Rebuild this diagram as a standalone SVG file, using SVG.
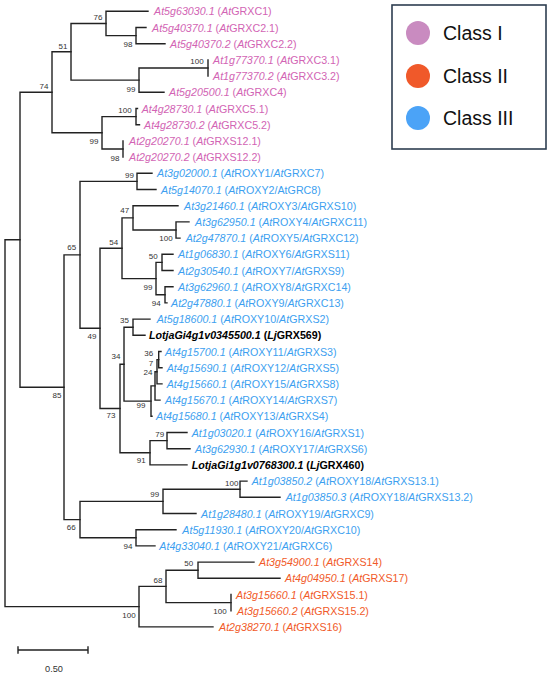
<svg xmlns="http://www.w3.org/2000/svg" width="550" height="676" viewBox="0 0 550 676">
<style>
.t{font-family:"Liberation Sans",Arial,sans-serif;font-size:10.7px}
.c1{fill:#d264b4}.c2{fill:#f15a29}.c3{fill:#3d9ff0}.lj{fill:#000;font-weight:bold}
.i{font-style:italic}
.bs{font-family:"Liberation Sans",Arial,sans-serif;font-size:8px;fill:#333;text-anchor:middle}
.br{stroke:#222;stroke-width:1.4;fill:none;stroke-linecap:square}
.lg{font-family:"Liberation Sans",Arial,sans-serif;font-size:19.5px;fill:#111}
</style>
<rect width="550" height="676" fill="#fff"/>
<g id="connectors" class="br">
<path d="M5 239.8V606.65M5 239.8H20M5 606.65H139"/>
<path d="M20 92.3V387.2M20 92.3H52M20 387.2H64"/>
<path d="M52 51.8V132.8M52 51.8H71M52 132.8H102"/>
<path d="M71 23.45V80.15M71 23.45H106M71 80.15H139"/>
<path d="M106 11.3V35.6M106 11.3H148M106 35.6H136"/>
<path d="M136 27.5V43.7M136 27.5H146M136 43.7H165"/>
<path d="M139 68V92.3M139 68H208M139 92.3H164"/>
<path d="M208 59.9V76.1"/>
<path d="M102 116.6V149M102 116.6H136M102 149H123"/>
<path d="M136 108.5V124.7M136 108.5H137.5M136 124.7H139.5"/>
<path d="M123 140.9V157.1"/>
<path d="M64 254.9V519.6M64 254.9H80M64 519.6H80"/>
<path d="M80 181.4V328.3M80 181.4H137M80 328.3H100"/>
<path d="M137 173.3V189.5M137 173.3H152M137 189.5H156"/>
<path d="M100 248.2V408.5M100 248.2H122M100 408.5H120"/>
<path d="M122 217.85V278.6M122 217.85H133M122 278.6H156"/>
<path d="M133 205.7V230M133 205.7H178M133 230H176"/>
<path d="M176 221.9V238.1M176 221.9H189M176 238.1H180"/>
<path d="M156 262.4V294.8M156 262.4H162M156 294.8H165"/>
<path d="M162 254.3V270.5M162 254.3H173M162 270.5H173"/>
<path d="M165 286.7V302.9M165 286.7H173M165 302.9H167"/>
<path d="M120 364.2V452.75M120 364.2H124M120 452.75H150"/>
<path d="M124 327.2V401.1M124 327.2H133M124 401.1H151"/>
<path d="M133 319.1V335.3M133 319.1H150M133 335.3H145"/>
<path d="M151 385.9V416.3M151 385.9H155M151 416.3H152"/>
<path d="M155 371.75V400.1M155 371.75H157M155 400.1H160"/>
<path d="M157 359.6V383.9M157 359.6H158.7M157 383.9H162"/>
<path d="M158.7 351.5V367.7M158.7 351.5H161M158.7 367.7H162"/>
<path d="M150 440.6V464.9M150 440.6H167M150 464.9H187"/>
<path d="M167 432.5V448.7M167 432.5H187M167 448.7H190"/>
<path d="M80 501.35V537.8M80 501.35H163M80 537.8H136"/>
<path d="M163 489.2V513.5M163 489.2H240M163 513.5H196"/>
<path d="M240 481.1V497.3M240 481.1H247M240 497.3H280"/>
<path d="M136 529.7V545.9M136 529.7H176M136 545.9H155"/>
<path d="M139 586.4V626.9M139 586.4H166M139 626.9H213"/>
<path d="M166 570.2V602.6M166 570.2H198M166 602.6H231"/>
<path d="M198 562.1V578.3M198 562.1H254M198 578.3H280"/>
<path d="M231 594.5V610.7"/>
</g>
<g id="bootstrap">
<text class="bs" x="98" y="20.1">76</text>
<text class="bs" x="63" y="48.5">51</text>
<text class="bs" x="128" y="46.8">98</text>
<text class="bs" x="44" y="88.8">74</text>
<text class="bs" x="197" y="63.8">100</text>
<text class="bs" x="131" y="91.8">99</text>
<text class="bs" x="125" y="112.8">100</text>
<text class="bs" x="94" y="143.8">99</text>
<text class="bs" x="115" y="161.1">98</text>
<text class="bs" x="129.5" y="177.8">99</text>
<text class="bs" x="124.7" y="212.8">47</text>
<text class="bs" x="166" y="241.1">100</text>
<text class="bs" x="113.7" y="245.1">54</text>
<text class="bs" x="71.7" y="250.1">65</text>
<text class="bs" x="153.3" y="258.8">50</text>
<text class="bs" x="148" y="289.5">99</text>
<text class="bs" x="156.3" y="306.1">94</text>
<text class="bs" x="124.5" y="322.8">35</text>
<text class="bs" x="92" y="338.8">49</text>
<text class="bs" x="116" y="358.8">34</text>
<text class="bs" x="148.7" y="355.8">36</text>
<text class="bs" x="151" y="365.8">7</text>
<text class="bs" x="148" y="374.8">24</text>
<text class="bs" x="57" y="397.8">85</text>
<text class="bs" x="141" y="407.8">99</text>
<text class="bs" x="111" y="417.8">73</text>
<text class="bs" x="159.7" y="436.8">79</text>
<text class="bs" x="141.3" y="462.8">91</text>
<text class="bs" x="154.7" y="497.1">99</text>
<text class="bs" x="231.7" y="485.5">100</text>
<text class="bs" x="71.3" y="530.1">66</text>
<text class="bs" x="128" y="548.5">94</text>
<text class="bs" x="188.8" y="566.1">50</text>
<text class="bs" x="158" y="582.8">68</text>
<text class="bs" x="220" y="613.8">100</text>
<text class="bs" x="129" y="617.8">100</text>
</g>
<g id="leaf-At5g63030"><text class="t c1" x="154" y="15.3"><tspan class="i">At5g63030.1</tspan> (<tspan class="i">At</tspan>GRXC1)</text></g>
<g id="leaf-At5g40370-1"><text class="t c1" x="152" y="31.5"><tspan class="i">At5g40370.1</tspan> (<tspan class="i">At</tspan>GRXC2.1)</text></g>
<g id="leaf-At5g40370-2"><text class="t c1" x="170" y="47.7"><tspan class="i">At5g40370.2</tspan> (<tspan class="i">At</tspan>GRXC2.2)</text></g>
<g id="leaf-At1g77370-1"><text class="t c1" x="213" y="63.9"><tspan class="i">At1g77370.1</tspan> (<tspan class="i">At</tspan>GRXC3.1)</text></g>
<g id="leaf-At1g77370-2"><text class="t c1" x="213" y="80.1"><tspan class="i">At1g77370.2</tspan> (<tspan class="i">At</tspan>GRXC3.2)</text></g>
<g id="leaf-At5g20500"><text class="t c1" x="169" y="96.3"><tspan class="i">At5g20500.1</tspan> (<tspan class="i">At</tspan>GRXC4)</text></g>
<g id="leaf-At4g28730-1"><text class="t c1" x="141.7" y="112.5"><tspan class="i">At4g28730.1</tspan> (<tspan class="i">At</tspan>GRXC5.1)</text></g>
<g id="leaf-At4g28730-2"><text class="t c1" x="144" y="128.7"><tspan class="i">At4g28730.2</tspan> (<tspan class="i">At</tspan>GRXC5.2)</text></g>
<g id="leaf-At2g20270-1"><text class="t c1" x="129" y="144.9"><tspan class="i">At2g20270.1</tspan> (<tspan class="i">At</tspan>GRXS12.1)</text></g>
<g id="leaf-At2g20270-2"><text class="t c1" x="129" y="161.1"><tspan class="i">At2g20270.2</tspan> (<tspan class="i">At</tspan>GRXS12.2)</text></g>
<g id="leaf-At3g02000"><text class="t c3" x="157" y="177.3"><tspan class="i">At3g02000.1</tspan> (<tspan class="i">At</tspan>ROXY1/<tspan class="i">At</tspan>GRXC7)</text></g>
<g id="leaf-At5g14070"><text class="t c3" x="161" y="193.5"><tspan class="i">At5g14070.1</tspan> (<tspan class="i">At</tspan>ROXY2/AtGRC8)</text></g>
<g id="leaf-At3g21460"><text class="t c3" x="184" y="209.7"><tspan class="i">At3g21460.1</tspan> (<tspan class="i">At</tspan>ROXY3/<tspan class="i">At</tspan>GRXS10)</text></g>
<g id="leaf-At3g62950"><text class="t c3" x="195" y="225.9"><tspan class="i">At3g62950.1</tspan> (<tspan class="i">At</tspan>ROXY4/<tspan class="i">At</tspan>GRXC11)</text></g>
<g id="leaf-At2g47870"><text class="t c3" x="185.7" y="242.1"><tspan class="i">At2g47870.1</tspan> (<tspan class="i">At</tspan>ROXY5/<tspan class="i">At</tspan>GRXC12)</text></g>
<g id="leaf-At1g06830"><text class="t c3" x="178" y="258.3"><tspan class="i">At1g06830.1</tspan> (<tspan class="i">At</tspan>ROXY6/<tspan class="i">At</tspan>GRXS11)</text></g>
<g id="leaf-At2g30540"><text class="t c3" x="178" y="274.5"><tspan class="i">At2g30540.1</tspan> (<tspan class="i">At</tspan>ROXY7/<tspan class="i">At</tspan>GRXS9)</text></g>
<g id="leaf-At3g62960"><text class="t c3" x="178" y="290.7"><tspan class="i">At3g62960.1</tspan> (<tspan class="i">At</tspan>ROXY8/<tspan class="i">At</tspan>GRXC14)</text></g>
<g id="leaf-At2g47880"><text class="t c3" x="171" y="306.9"><tspan class="i">At2g47880.1</tspan> (<tspan class="i">At</tspan>ROXY9/<tspan class="i">At</tspan>GRXC13)</text></g>
<g id="leaf-At5g18600"><text class="t c3" x="156.7" y="323.1"><tspan class="i">At5g18600.1</tspan> (<tspan class="i">At</tspan>ROXY10/<tspan class="i">At</tspan>GRXS2)</text></g>
<g id="leaf-LotjaGi4g1v0345500"><text class="t lj" x="149" y="339.3"><tspan class="i">LotjaGi4g1v0345500.1</tspan> (<tspan class="i">Lj</tspan>GRX569)</text></g>
<g id="leaf-At4g15700"><text class="t c3" x="165" y="355.5"><tspan class="i">At4g15700.1</tspan> (<tspan class="i">At</tspan>ROXY11/<tspan class="i">At</tspan>GRXS3)</text></g>
<g id="leaf-At4g15690"><text class="t c3" x="166.7" y="371.7"><tspan class="i">At4g15690.1</tspan> (<tspan class="i">At</tspan>ROXY12/<tspan class="i">At</tspan>GRXS5)</text></g>
<g id="leaf-At4g15660"><text class="t c3" x="166.7" y="387.9"><tspan class="i">At4g15660.1</tspan> (<tspan class="i">At</tspan>ROXY15/<tspan class="i">At</tspan>GRXS8)</text></g>
<g id="leaf-At4g15670"><text class="t c3" x="165" y="404.1"><tspan class="i">At4g15670.1</tspan> (<tspan class="i">At</tspan>ROXY14/<tspan class="i">At</tspan>GRXS7)</text></g>
<g id="leaf-At4g15680"><text class="t c3" x="156" y="420.3"><tspan class="i">At4g15680.1</tspan> (<tspan class="i">At</tspan>ROXY13/<tspan class="i">At</tspan>GRXS4)</text></g>
<g id="leaf-At1g03020"><text class="t c3" x="191.7" y="436.5"><tspan class="i">At1g03020.1</tspan> (<tspan class="i">At</tspan>ROXY16/<tspan class="i">At</tspan>GRXS1)</text></g>
<g id="leaf-At3g62930"><text class="t c3" x="195" y="452.7"><tspan class="i">At3g62930.1</tspan> (<tspan class="i">At</tspan>ROXY17/<tspan class="i">At</tspan>GRXS6)</text></g>
<g id="leaf-LotjaGi1g1v0768300"><text class="t lj" x="191.7" y="468.9"><tspan class="i">LotjaGi1g1v0768300.1</tspan> (<tspan class="i">Lj</tspan>GRX460)</text></g>
<g id="leaf-At1g03850-2"><text class="t c3" x="251.7" y="485.1"><tspan class="i">At1g03850.2</tspan> (<tspan class="i">At</tspan>ROXY18/<tspan class="i">At</tspan>GRXS13.1)</text></g>
<g id="leaf-At1g03850-3"><text class="t c3" x="285.7" y="501.3"><tspan class="i">At1g03850.3</tspan> (<tspan class="i">At</tspan>ROXY18/<tspan class="i">At</tspan>GRXS13.2)</text></g>
<g id="leaf-At1g28480"><text class="t c3" x="201" y="517.5"><tspan class="i">At1g28480.1</tspan> (<tspan class="i">At</tspan>ROXY19/<tspan class="i">At</tspan>GRXC9)</text></g>
<g id="leaf-At5g11930"><text class="t c3" x="182.3" y="533.7"><tspan class="i">At5g11930.1</tspan> (<tspan class="i">At</tspan>ROXY20/<tspan class="i">At</tspan>GRXC10)</text></g>
<g id="leaf-At4g33040"><text class="t c3" x="159.3" y="549.9"><tspan class="i">At4g33040.1</tspan> (<tspan class="i">At</tspan>ROXY21/<tspan class="i">At</tspan>GRXC6)</text></g>
<g id="leaf-At3g54900"><text class="t c2" x="259" y="566.1"><tspan class="i">At3g54900.1</tspan> (<tspan class="i">At</tspan>GRXS14)</text></g>
<g id="leaf-At4g04950"><text class="t c2" x="285" y="582.3"><tspan class="i">At4g04950.1</tspan> (<tspan class="i">At</tspan>GRXS17)</text></g>
<g id="leaf-At3g15660-1"><text class="t c2" x="236" y="598.5"><tspan class="i">At3g15660.1</tspan> (<tspan class="i">At</tspan>GRXS15.1)</text></g>
<g id="leaf-At3g15660-2"><text class="t c2" x="237" y="614.7"><tspan class="i">At3g15660.2</tspan> (<tspan class="i">At</tspan>GRXS15.2)</text></g>
<g id="leaf-At2g38270"><text class="t c2" x="219" y="630.9"><tspan class="i">At2g38270.1</tspan> (<tspan class="i">At</tspan>GRXS16)</text></g>
<g id="scale-bar">
<path class="br" d="M18 650H88M18 647V653M88 647V653"/>
<text x="54" y="671.5" font-family="Liberation Sans, Arial, sans-serif" font-size="9.2" fill="#333" text-anchor="middle">0.50</text>
</g>
<g id="legend">
<rect x="392" y="5" width="154" height="144" fill="#fff" stroke="#2d3e50" stroke-width="1.6"/>
<circle cx="418" cy="33" r="12" fill="#c98bc0"/>
<circle cx="418" cy="76" r="12" fill="#f0592a"/>
<circle cx="418" cy="118" r="12" fill="#4ba3f7"/>
<text class="lg" x="443" y="40">Class I</text>
<text class="lg" x="443" y="83">Class II</text>
<text class="lg" x="443" y="125">Class III</text>
</g>
</svg>
